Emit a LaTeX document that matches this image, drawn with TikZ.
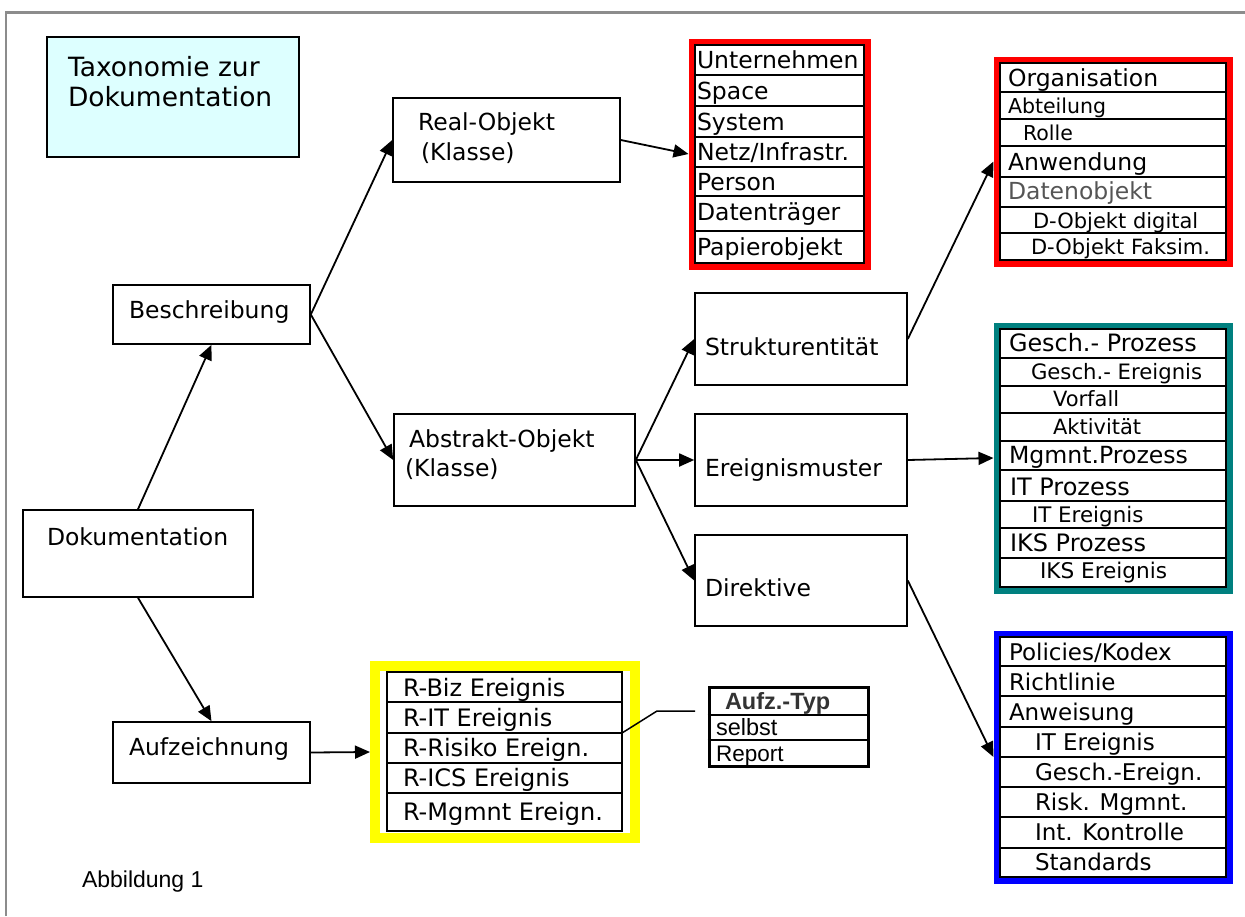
\documentclass[tikz,border=0pt]{standalone}
\usepackage{fontspec}
\setmainfont{DejaVu Sans}
\newfontfamily\arialf{Liberation Sans}
\usetikzlibrary{arrows.meta,fit}
\definecolor{framegray}{HTML}{8C8C8C}
\definecolor{titlecyan}{HTML}{DDFFFF}
\definecolor{listred}{HTML}{FF0000}
\definecolor{listteal}{HTML}{00807F}
\definecolor{listblue}{HTML}{0000FF}
\definecolor{listyellow}{HTML}{FFFF00}
\definecolor{dimtext}{HTML}{555555}
\definecolor{darktext}{HTML}{333333}
\newcommand\putT[5]{\node[txt,font=\fontsize{#4pt}{#4pt}\selectfont] (#1) at (#2,#3) {#5};}
\begin{document}
\begin{tikzpicture}[x=1pt,y=-1pt,
  bx/.style={draw=black,line width=1.6pt,inner sep=0pt},
  inl/.style={draw=black,line width=2pt,inner sep=0pt,outer sep=0pt},
  rowl/.style={draw=black,line width=1.8pt},
  outl/.style={line width=5.5pt,inner sep=3.75pt},
  txt/.style={anchor=base west,inner sep=0pt,outer sep=0pt},
  conn/.style={draw=black,line width=1.8pt,-{Triangle[length=15pt,width=13pt]}}]
\useasboundingbox (0,0) rectangle (1245,916);
% frame
\draw[framegray,line width=2.5pt] (6,916) -- (6,12.5) -- (1245,12.5);
% title
\node[bx,fill=titlecyan,fit={(47,37) (299,157)}] (title) {};
\putT{tA}{68}{76}{26.5}{Taxonomie zur}
\putT{tB}{68}{106}{26.5}{Dokumentation}
% main boxes
\node[bx,fit={(393,98) (620,182)}] (real) {};
\node[bx,fit={(113,285) (310,344)}] (besch) {};
\node[bx,fit={(394,414) (635,506)}] (abs) {};
\node[bx,fit={(23,510) (253,597)}] (dok) {};
\node[bx,fit={(113,722) (310,783)}] (aufz) {};
\node[bx,fit={(695,293) (907,385)}] (strukt) {};
\node[bx,fit={(695,414) (907,506)}] (ereig) {};
\node[bx,fit={(695,535) (907,626)}] (dir) {};
\putT{realA}{418}{130.5}{23.5}{Real-Objekt}
\putT{realB}{421}{160}{23.5}{(Klasse)}
\putT{beschT}{129}{318}{23.5}{Beschreibung}
\putT{absA}{409}{447}{23.5}{Abstrakt-Objekt}
\putT{absB}{405}{476}{23.5}{(Klasse)}
\putT{dokT}{47}{545}{23.5}{Dokumentation}
\putT{aufzT}{129}{755}{23.5}{Aufzeichnung}
\putT{struktT}{705}{355}{23.5}{Strukturentität}
\putT{ereigT}{705}{476}{23.5}{Ereignismuster}
\putT{dirT}{705}{596}{23.5}{Direktive}
% Real list
\node[inl,fit={(695,45) (864,263)}] (reali) {};
\node[outl,draw=listred,fit=(reali)] (reall) {};
\foreach \yy in {75,106,137,167,196,231} \draw[rowl] (reali.west |- 0,\yy) -- (reali.east |- 0,\yy);
\putT{r1}{697}{68.5}{23.5}{Unternehmen}
\putT{r2}{697}{99}{23.5}{Space}
\putT{r3}{697}{130}{23.5}{System}
\putT{r4}{697}{160.5}{23.5}{Netz/Infrastr.}
\putT{r5}{697}{190}{23.5}{Person}
\putT{r6}{697}{220}{23.5}{Datenträger}
\putT{r7}{697}{255}{23.5}{Papierobjekt}
% Organisation list
\node[inl,fit={(1000,63) (1226,260)}] (orgi) {};
\node[outl,draw=listred,fit=(orgi)] (orgl) {};
\foreach \yy in {92,119,146,177,207,233} \draw[rowl] (orgi.west |- 0,\yy) -- (orgi.east |- 0,\yy);
\putT{o1}{1008}{86}{23.5}{Organisation}
\putT{o2}{1008}{113.3}{20.5}{Abteilung}
\putT{o3}{1023}{140.5}{20.5}{Rolle}
\putT{o4}{1008}{170.5}{23.5}{Anwendung}
\putT{o5}{1008}{199.5}{23.5}{\color{dimtext}Datenobjekt}
\putT{o6}{1033}{228}{21}{D-Objekt digital}
\putT{o7}{1031}{254.5}{21}{D-Objekt Faksim.}
% Gesch list
\node[inl,fit={(1000,329) (1226,587)}] (geschi) {};
\node[outl,draw=listteal,fit=(geschi)] (geschl) {};
\foreach \yy in {358,386,413,441,470,501,528,558} \draw[rowl] (geschi.west |- 0,\yy) -- (geschi.east |- 0,\yy);
\putT{g1}{1009}{351.7}{23.9}{Gesch.- Prozess}
\putT{g2}{1031}{379.3}{21.2}{Gesch.- Ereignis}
\putT{g3}{1053}{406.7}{21}{Vorfall}
\putT{g4}{1053}{434}{21}{Aktivität}
\putT{g5}{1009}{463.3}{23.6}{Mgmnt.Prozess}
\putT{g6}{1010}{495}{24}{IT Prozess}
\putT{g7}{1032}{522.3}{21.4}{IT Ereignis}
\putT{g8}{1010}{551}{24}{IKS Prozess}
\putT{g9}{1040}{578.3}{21.6}{IKS Ereignis}
% Policies list
\node[inl,fit={(1000,637) (1226,877)}] (poli) {};
\node[outl,draw=listblue,fit=(poli)] (poll) {};
\foreach \yy in {666,696,727,757,787,817,848} \draw[rowl] (poli.west |- 0,\yy) -- (poli.east |- 0,\yy);
\putT{p1}{1009}{660}{23}{Policies/Kodex}
\putT{p2}{1009}{690}{23}{Richtlinie}
\putT{p3}{1009}{720}{23}{Anweisung}
\putT{p4}{1035}{750}{23}{IT Ereignis}
\putT{p5}{1035}{780}{23}{Gesch.-Ereign.}
\putT{p6}{1035}{810}{23}{Risk. Mgmnt.}
\putT{p7}{1035}{840}{23}{Int. Kontrolle}
\putT{p8}{1035}{870}{23}{Standards}
% Yellow list
\node[draw=listyellow,line width=10pt,inner sep=0pt,fit={(375,666) (635,838)}] (yell) {};
\node[inl,fit={(387,672) (622,831)}] (yelli) {};
\foreach \yy in {702,733,763,793} \draw[rowl] (yelli.west |- 0,\yy) -- (yelli.east |- 0,\yy);
\putT{y1}{403}{696.7}{24}{R-Biz Ereignis}
\putT{y2}{403}{726.7}{24}{R-IT Ereignis}
\putT{y3}{403}{756.7}{24}{R-Risiko Ereign.}
\putT{y4}{403}{786.7}{24}{R-ICS Ereignis}
\putT{y5}{403}{820}{24}{R-Mgmnt Ereign.}
% Aufz.-Typ table
\node[draw=black,line width=3pt,inner sep=0pt,fit={(709,687) (868,766)}] (atyp) {};
\foreach \yy in {715,740} \draw[black,line width=1.6pt] (atyp.west |- 0,\yy) -- (atyp.east |- 0,\yy);
\putT{a1}{725}{709}{23.5}{\arialf\bfseries\color{darktext}Aufz.-Typ}
\putT{a2}{716}{735}{23.5}{\arialf selbst}
\putT{a3}{716}{761}{22.5}{\arialf Report}
% callout line
\coordinate (ca) at (622,733);
\coordinate (cb) at (657,711);
\coordinate (cc) at (695,711);
\draw[black,line width=1.5pt] (ca) -- (cb) -- (cc);
% caption
\putT{cap}{82}{887}{23}{\arialf Abbildung 1}
% connectors
\draw[conn] (dok.north) -- (besch.south);
\draw[conn] (dok.south) -- (aufz.north);
\draw[conn] (besch.east) -- (real.west);
\draw[conn] (besch.east) -- (abs.west);
\draw[conn] (real.east) -- (reall.west);
\draw[conn] (abs.east) -- (strukt.west);
\draw[conn] (abs.east) -- (ereig.west);
\draw[conn] (abs.east) -- (dir.west);
\draw[conn] (strukt.east) -- (orgl.west);
\draw[conn] (ereig.east) -- (geschl.west);
\draw[conn] (dir.east) -- (poll.west);
\draw[conn] (aufz.east) -- (yell.west);
\end{tikzpicture}
\end{document}
